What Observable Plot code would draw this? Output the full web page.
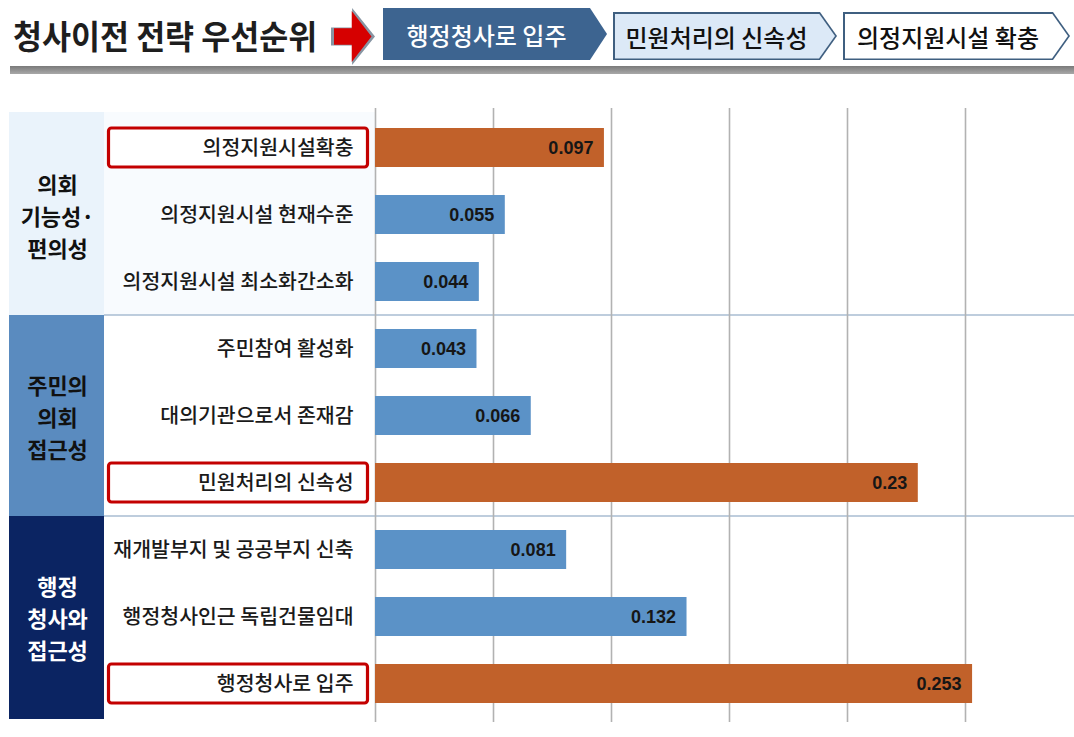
<!DOCTYPE html>
<html>
<head>
<meta charset="utf-8">
<script src="https://cdn.jsdelivr.net/npm/d3@7"></script>
<script src="https://cdn.jsdelivr.net/npm/@observablehq/plot@0.6"></script>
<style>
  html, body { margin: 0; padding: 0; background: #ffffff; }
  body { width: 1074px; height: 737px; overflow: hidden; font-family: "Noto Sans CJK KR", "Noto Sans", sans-serif; }
  #header { position: relative; width: 1074px; height: 90px; }
  .title { position: absolute; left: 13px; top: 8px; line-height: 54px; font-size: 33px; font-weight: 700; color: #1e1e1e; white-space: nowrap; transform: scaleX(0.955); transform-origin: left center; }
  .shape { position: absolute; }
  .chev-text { position: absolute; left: 0; top: 0; bottom: 0; display: flex; align-items: center; justify-content: center; font-size: 24px; font-weight: 500; white-space: nowrap; }
  .bar { position: absolute; left: 10px; right: 0; top: 66px; height: 8px; background: linear-gradient(#7a7a7a, #a8a8a8); }
</style>
</head>
<body>
<div id="header"></div>
<div id="chart"></div>
<script>
// ---- data ----
const chartTitle = "청사이전 전략 우선순위";
const priorityOrder = ["행정청사로 입주", "민원처리의 신속성", "의정지원시설 확충"];
const groupLabels = ["의회\n기능성·\n편의성", "주민의\n의회\n접근성", "행정\n청사와\n접근성"];
const items = [
  "의정지원시설확충",
  "의정지원시설 현재수준",
  "의정지원시설 최소화간소화",
  "주민참여 활성화",
  "대의기관으로서 존재감",
  "민원처리의 신속성",
  "재개발부지 및 공공부지 신축",
  "행정청사인근 독립건물임대",
  "행정청사로 입주"
];
const itemGroup = [0, 0, 0, 1, 1, 1, 2, 2, 2];
const values = [0.097, 0.055, 0.044, 0.043, 0.066, 0.23, 0.081, 0.132, 0.253];
const valueLabels = ["0.097", "0.055", "0.044", "0.043", "0.066", "0.23", "0.081", "0.132", "0.253"];
const highlighted = ["의정지원시설확충", "민원처리의 신속성", "행정청사로 입주"];
const xTicks = [0, 0.05, 0.1, 0.15, 0.2, 0.25];

// ---- styles ----
const orange = "#c1612a";
const blue = "#5b92c7";
const groupFill = ["#eaf3fb", "#5a8bbf", "#0b2462"];
const groupText = ["#111111", "#111111", "#ffffff"];

// ---- header ----
const header = document.getElementById("header");
function el(tag, cls, style, text) {
  const e = document.createElement(tag);
  if (cls) e.className = cls;
  if (style) e.setAttribute("style", style);
  if (text != null) e.textContent = text;
  return e;
}
header.appendChild(el("div", "title", "", chartTitle));
// arrow (gray outline + red body)
const arrowPoly = "polygon(0 34%, 48% 34%, 48% 0, 100% 50%, 48% 100%, 48% 66%, 0 66%)";
header.appendChild(el("div", "shape", `left:331px;top:8px;width:44px;height:57px;background:#8795a3;clip-path:${arrowPoly};`));
header.appendChild(el("div", "shape", `left:333.5px;top:11px;width:38px;height:51px;background:#d60000;clip-path:${arrowPoly};`));

function chevron(x, y, w, h, fill, border, color, text) {
  const tip = 17;
  const poly = (t) => `polygon(0 0, calc(100% - ${t}px) 0, 100% 50%, calc(100% - ${t}px) 100%, 0 100%)`;
  const outer = el("div", "shape", `left:${x}px;top:${y}px;width:${w}px;height:${h}px;background:${border || fill};clip-path:${poly(tip)};`);
  header.appendChild(outer);
  if (border) {
    header.appendChild(el("div", "shape", `left:${x + 1.5}px;top:${y + 1.5}px;width:${w - 3.5}px;height:${h - 3}px;background:${fill};clip-path:${poly(tip - 1)};`));
  }
  header.appendChild(el("div", "chev-text", `left:${x}px;top:${y}px;width:${w - tip}px;height:${h}px;color:${color};`, text));
}
chevron(383, 8, 224, 52, "#3d6490", null, "#ffffff", priorityOrder[0]);
chevron(613, 12, 224, 48, "#dce9f7", "#3f5f80", "#111111", priorityOrder[1]);
chevron(843, 12, 227, 48, "#ffffff", "#3f5f80", "#111111", priorityOrder[2]);
header.appendChild(el("div", "bar"));

// ---- chart ----
const rows = items.map((item, i) => ({
  item,
  value: values[i],
  label: valueLabels[i],
  group: itemGroup[i],
  hl: highlighted.includes(item) ? "hl" : "base"
}));
const groupRows = groupLabels.map((label, g) => {
  const members = items.filter((_, i) => itemGroup[i] === g);
  return { label, g, mid: members[Math.floor(members.length / 2)] };
});

function decorations(...args) {
  const scales = args.find(a => a && typeof a === "object" && typeof a.y === "function" && a.y.bandwidth);
  const dims = args.find(a => a && typeof a === "object" && "marginLeft" in a && "width" in a);
  const y = scales.y;
  const bw = y.bandwidth();
  const step = y.step();
  const gap = (step - bw) / 2;
  const g = d3.create("svg:g");
  groupLabels.forEach((_, gi) => {
    const members = items.filter((_, i) => itemGroup[i] === gi);
    const top = y(members[0]) - gap - (gi === 0 ? 2 : 0);
    const bottom = y(members[members.length - 1]) + bw + gap + (gi === groupLabels.length - 1 ? 2 : 0);
    if (gi === 0) {
      g.append("rect").attr("x", 103).attr("y", top).attr("width", dims.marginLeft - 103).attr("height", bottom - top).attr("fill", "#f8fbfe");
    }
    g.append("rect").attr("x", 9).attr("y", top).attr("width", 95).attr("height", bottom - top).attr("fill", groupFill[gi]);
    if (gi > 0) {
      g.append("line").attr("x1", 104).attr("x2", dims.width).attr("y1", top).attr("y2", top)
        .attr("stroke", "#a9bdd2").attr("stroke-width", 1.5);
    }
  });
  highlighted.forEach(item => {
    const cy = y(item) + bw / 2;
    g.append("rect").attr("x", 108.5).attr("y", cy - 19.5).attr("width", 259).attr("height", 39).attr("rx", 3)
      .attr("fill", "#ffffff").attr("stroke", "#c30000").attr("stroke-width", 3.2);
  });
  return g.node();
}

const chart = Plot.plot({
  width: 1074,
  height: 647,
  marginLeft: 375,
  marginRight: 109,
  marginTop: 20,
  marginBottom: 17,
  style: { fontFamily: "'Noto Sans CJK KR', sans-serif", background: "transparent" },
  x: { domain: [0, 0.25], axis: null },
  y: { domain: items, axis: null, paddingInner: 0.42, paddingOuter: 0.21 },
  color: { domain: ["hl", "base"], range: [orange, blue] },
  marks: [
    decorations,
    Plot.ruleX(xTicks, { stroke: "#b2b2b2", strokeWidth: 1.6, insetTop: -2, insetBottom: -2 }),
    Plot.barX(rows, { x: "value", y: "item", fill: "hl" }),
    Plot.text(rows, {
      x: "value", y: "item", text: "label", textAnchor: "end", dx: -11,
      fontSize: 18, fontWeight: 700, fill: "#161616",
      fontFamily: "'Liberation Sans', Arial, sans-serif"
    }),
    Plot.text(rows, {
      y: "item", text: "item", frameAnchor: "left", dx: -22, textAnchor: "end",
      fontSize: 20.5, fontWeight: 500, fill: "#1a1a1a"
    }),
    Plot.text(groupRows, {
      y: "mid", text: "label", frameAnchor: "left", dx: -318, textAnchor: "middle", lineAnchor: "middle",
      lineHeight: 1.46, fontSize: 22, fontWeight: 700, fill: d => groupText[d.g]
    })
  ]
});
document.getElementById("chart").appendChild(chart);
</script>
</body>
</html>
